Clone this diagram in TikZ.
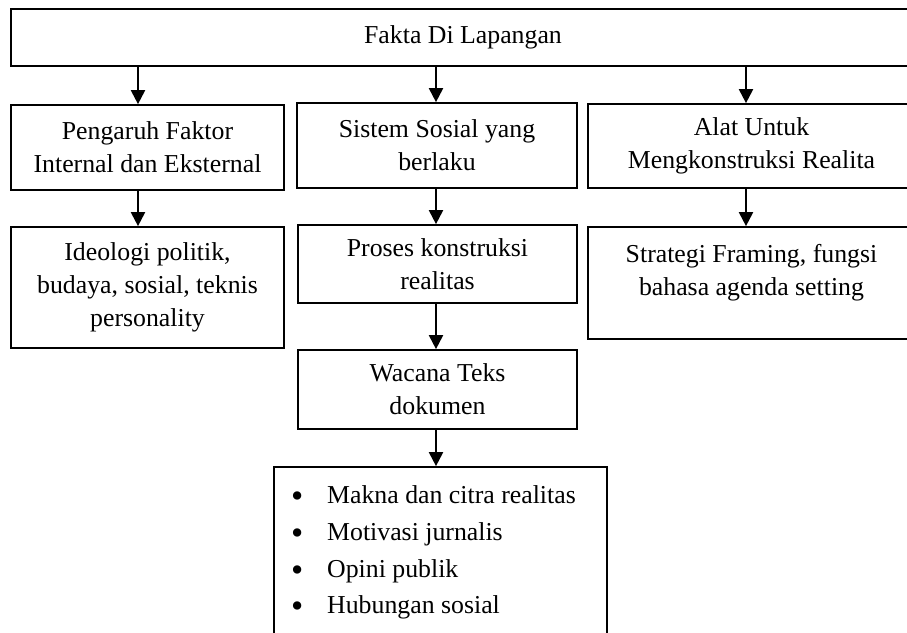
\documentclass[tikz,border=0pt]{standalone}
\usepackage{graphicx}
\usepackage{fontspec}
\setmainfont{Liberation Serif}
\usetikzlibrary{arrows.meta}
\newcommand{\bigbul}{\raisebox{-4pt}{\scalebox{1.35}{\textbullet}}}
\begin{document}
\begin{tikzpicture}[x=1pt,y=-1pt,
  box/.style={draw, line width=1.7pt, inner sep=0pt, align=center,
    font=\fontsize{25.8}{33}\selectfont},
  arr/.style={line width=2pt, -{Triangle[length=14pt,width=14pt]}},
  itemtxt/.style={font=\fontsize{25.8}{33}\selectfont, inner sep=0pt, anchor=base west}]
\useasboundingbox (0,0) rectangle (907,632);
\clip (0,0) rectangle (907,632);
% boxes
\node[box, minimum width=904pt, minimum height=57pt] (top) at (463,37.5) {Fakta Di Lapangan};
\node[box, minimum width=273pt, minimum height=85pt] (a1) at (147.5,147.5) {Pengaruh Faktor\\Internal dan Eksternal};
\node[box, minimum width=273pt, minimum height=121pt] (a2) at (147.5,287.5) {Ideologi politik,\\budaya, sosial, teknis\\personality};
\node[box, minimum width=280pt, minimum height=85pt] (b1) at (437,145.5) {Sistem Sosial yang\\berlaku};
\node[box, minimum width=279pt, minimum height=78pt] (b2) at (437.5,264) {Proses konstruksi\\realitas};
\node[box, minimum width=279pt, minimum height=79pt] (b3) at (437.5,389.5) {Wacana Teks\\dokumen};
\node[box, minimum width=333pt, minimum height=240pt] (b4) at (440.5,587) {};
\node[box, minimum width=327pt, minimum height=84pt] (c1) at (751.5,146) {Alat Untuk\\Mengkonstruksi Realita};
\node[box, minimum width=327pt, minimum height=112pt] (c2) at (751.5,283) {Strategi Framing, fungsi\\bahasa agenda setting\\[-6pt]\mbox{}};
% list
\node[itemtxt] (l1) at (291,503) {\makebox[36pt][l]{\bigbul}Makna dan citra realitas};
\node[itemtxt] (l2) at (291,540) {\makebox[36pt][l]{\bigbul}Motivasi jurnalis};
\node[itemtxt] (l3) at (291,577) {\makebox[36pt][l]{\bigbul}Opini publik};
\node[itemtxt] (l4) at (291,613) {\makebox[36pt][l]{\bigbul}Hubungan sosial};
% arrow columns
\coordinate (xa) at (138,0);
\coordinate (xb) at (436,0);
\coordinate (xc) at (746,0);
\draw[arr] (top.south -| xa) -- (a1.north -| xa);
\draw[arr] (top.south -| xb) -- (b1.north -| xb);
\draw[arr] (top.south -| xc) -- (c1.north -| xc);
\draw[arr] (a1.south -| xa) -- (a2.north -| xa);
\draw[arr] (b1.south -| xb) -- (b2.north -| xb);
\draw[arr] (c1.south -| xc) -- (c2.north -| xc);
\draw[arr] (b2.south -| xb) -- (b3.north -| xb);
\draw[arr] (b3.south -| xb) -- (b4.north -| xb);
\end{tikzpicture}
\end{document}
